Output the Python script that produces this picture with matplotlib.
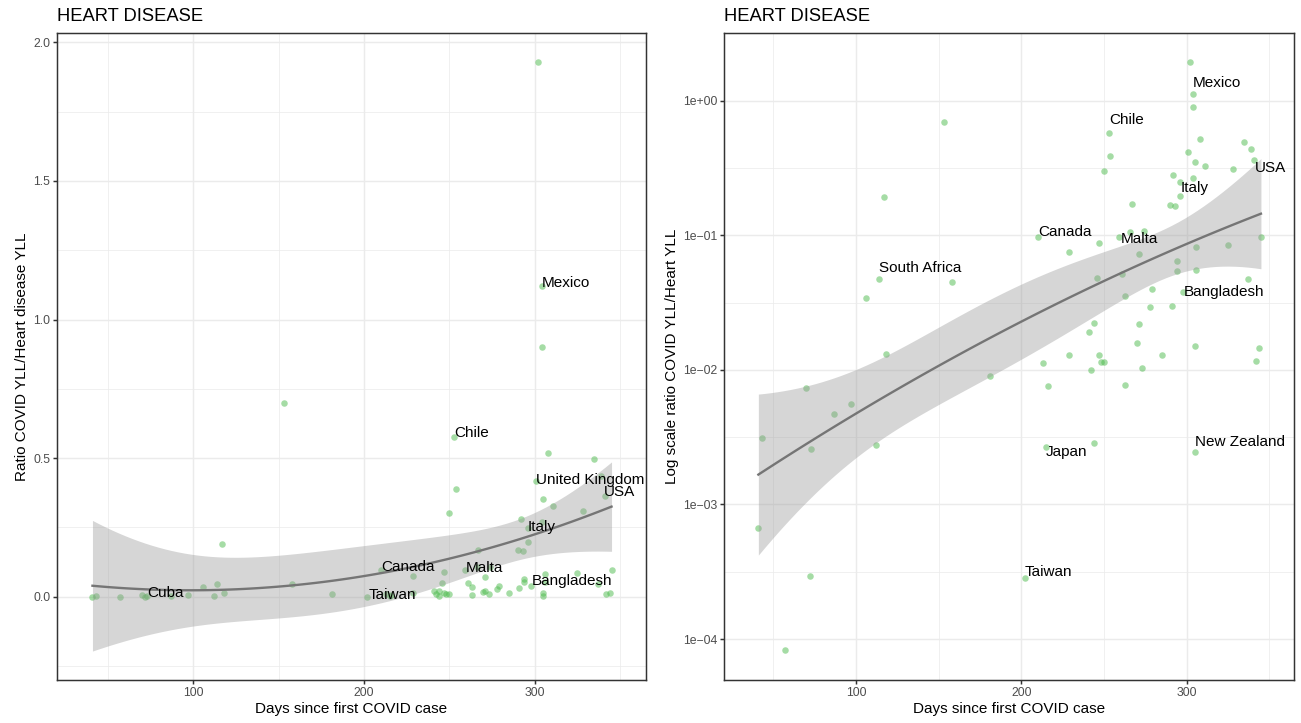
import numpy as np
import matplotlib
matplotlib.use('Agg')
import matplotlib.pyplot as plt
from matplotlib.transforms import offset_copy

plt.rcParams['font.family'] = ['Liberation Sans', 'DejaVu Sans']

# days since first case and COVID YLL / heart disease YLL ratio, one entry per country
days = [302, 304, 304, 253, 254, 250, 308, 335, 339, 341,
        301, 305, 311, 328, 292, 304, 296, 296, 290, 293,
        267, 274, 210, 247, 229, 259, 266, 271, 294, 294,
        306, 325, 345, 306, 337, 246, 261, 279, 263, 298,
        278, 291, 244, 241, 271, 270, 305, 344, 342, 229,
        247, 248, 250, 285, 213, 242, 273, 216, 263, 153,
        117, 114, 106, 158, 118, 181, 70, 97, 87, 43,
        73, 112, 41, 72, 57, 215, 244, 305, 202]
ratio = [1.93, 1.12, 0.90, 0.575, 0.39, 0.302, 0.519, 0.496, 0.435, 0.363,
         0.418, 0.351, 0.329, 0.311, 0.280, 0.268, 0.248, 0.196, 0.169, 0.165,
         0.170, 0.108, 0.0977, 0.088, 0.075, 0.0966, 0.106, 0.0726, 0.0648, 0.0543,
         0.0823, 0.0851, 0.0966, 0.055, 0.0476, 0.0484, 0.0513, 0.0401, 0.0352, 0.0381,
         0.0293, 0.030, 0.0223, 0.0192, 0.022, 0.0159, 0.0151, 0.0145, 0.0116, 0.0128,
         0.0128, 0.0115, 0.0115, 0.0129, 0.0112, 0.00993, 0.0103, 0.00755, 0.00769, 0.698,
         0.191, 0.0471, 0.0344, 0.0452, 0.0131, 0.0090, 0.00734, 0.00558, 0.0047, 0.00312,
         0.00257, 0.00278, 0.000673, 0.000293, 8.26e-5, 0.00266, 0.00288, 0.00247, 0.000284]
country = [''] * len(days)
for i, name in [(1, 'Mexico'), (3, 'Chile'), (9, 'USA'), (10, 'United Kingdom'),
                (16, 'Italy'), (22, 'Canada'), (25, 'Malta'), (39, 'Bangladesh'),
                (61, 'South Africa'), (70, 'Cuba'), (75, 'Japan'),
                (77, 'New Zealand'), (78, 'Taiwan')]:
    country[i] = name

# label nudges in pixels (right, up)
left_labels = {'Mexico': (0, -1), 'Chile': (0, 0), 'United Kingdom': (0, -3),
               'USA': (-1, 0), 'Italy': (0, -2.5), 'Canada': (0, -1),
               'Malta': (1, -2), 'Bangladesh': (0, 1.5), 'Taiwan': (1, -2),
               'Cuba': (0, -0.7)}
right_labels = {'Mexico': (0, 7), 'Chile': (0, 8.7), 'USA': (1, -12),
                'Italy': (1, -9.6), 'Canada': (0, 1), 'Malta': (1.7, -5.5),
                'South Africa': (0, 7.6), 'Bangladesh': (1, -4.3),
                'Japan': (0, -9), 'New Zealand': (0, 5.7), 'Taiwan': (0, 2)}

log_ticks = [1e-4, 1e-3, 1e-2, 1e-1, 1e0]
log_tick_labels = ['1e\u221204', '1e\u221203', '1e\u221202', '1e\u221201', '1e+00']

POINT = '#4dbb4d'
GRID = '#ebebeb'
DARK = '#333333'


def t_975(df):
    # Cornish-Fisher approximation of the 97.5% t quantile
    z = 1.959964
    return z + (z ** 3 + z) / (4 * df) + (5 * z ** 5 + 16 * z ** 3 + 3 * z) / (96 * df ** 2)


def poly_fit(x, y, grid, deg=2):
    """least squares y ~ poly(x, deg) with a 95% confidence band"""
    x = np.asarray(x, float)
    y = np.asarray(y, float)
    c = x.mean()
    X = np.vander(x - c, deg + 1)
    beta, *_ = np.linalg.lstsq(X, y, rcond=None)
    resid = y - X @ beta
    df = len(x) - (deg + 1)
    sigma = np.sqrt(resid @ resid / df)
    cov = np.linalg.inv(X.T @ X)
    G = np.vander(grid - c, deg + 1)
    fit = G @ beta
    se = sigma * np.sqrt(np.einsum('ij,jk,ik->i', G, cov, G))
    t = t_975(df)
    return fit, fit - t * se, fit + t * se


def style_axes(ax):
    ax.set_axisbelow(True)
    ax.grid(True, which='major', color=GRID, lw=1.07)
    ax.grid(True, which='minor', color=GRID, lw=0.53)
    for s in ax.spines.values():
        s.set_color(DARK)
        s.set_linewidth(1.07)
    ax.tick_params(which='major', length=2.75, width=1.07, color=DARK,
                   labelsize=8.8, labelcolor='#4d4d4d', pad=2.2)
    ax.tick_params(which='minor', length=0)
    ax.set_xlim(20.4, 365)
    ax.set_xticks([100, 200, 300])
    ax.set_xticks([50, 150, 250, 350], minor=True)
    ax.set_xlabel('Days since first COVID case', fontsize=11, labelpad=2.5)
    ax.set_title('HEART DISEASE', loc='left', fontsize=13.2, pad=8.6)


def add_labels(ax, fig, labels):
    for name, (dx, dy) in labels.items():
        i = country.index(name)
        tr = offset_copy(ax.transData, fig=fig, x=dx * 0.72, y=dy * 0.72, units='points')
        t = ax.text(days[i], ratio[i], name, transform=tr, fontsize=11,
                    ha='left', va='baseline', color='black', zorder=5)
        t.set_clip_box(ax.bbox)
        t.set_clip_on(True)


fig = plt.figure(figsize=(13.01, 7.23), dpi=100)
ax1 = fig.add_axes([0.04404, 0.05947, 0.45226, 0.89443])
ax2 = fig.add_axes([0.55673, 0.05947, 0.43789, 0.89443])

x = np.array(days, float)
y = np.array(ratio, float)
grid_x = np.linspace(x.min(), x.max(), 80)

# linear ratio
style_axes(ax1)
ax1.scatter(x, y, s=22, color=POINT, alpha=0.5, linewidths=0, zorder=2)
fit, lo, hi = poly_fit(x, y, grid_x)
ax1.fill_between(grid_x, lo, hi, color='#999999', alpha=0.4, linewidth=0, zorder=3)
ax1.plot(grid_x, fit, color='#757575', lw=1.7, zorder=4)
ax1.set_ylim(-0.30, 2.032)
ax1.set_yticks([0.0, 0.5, 1.0, 1.5, 2.0])
ax1.set_yticklabels(['0.0', '0.5', '1.0', '1.5', '2.0'])
ax1.set_yticks([-0.25, 0.25, 0.75, 1.25, 1.75], minor=True)
ax1.set_ylabel('Ratio COVID YLL/Heart disease YLL', fontsize=11, labelpad=3)
add_labels(ax1, fig, left_labels)

# log ratio, fitted on the log scale
style_axes(ax2)
ax2.set_yscale('log')
ax2.scatter(x, y, s=22, color=POINT, alpha=0.5, linewidths=0, zorder=2)
fit, lo, hi = poly_fit(x, np.log10(y), grid_x)
ax2.fill_between(grid_x, 10 ** lo, 10 ** hi, color='#999999', alpha=0.4, linewidth=0, zorder=3)
ax2.plot(grid_x, 10 ** fit, color='#757575', lw=1.7, zorder=4)
ax2.set_ylim(10 ** -4.304, 10 ** 0.5007)
ax2.set_yticks(log_ticks)
ax2.set_yticklabels(log_tick_labels)
ax2.set_yticks([10 ** -3.5, 10 ** -2.5, 10 ** -1.5, 10 ** -0.5], minor=True)
ax2.yaxis.set_minor_formatter(matplotlib.ticker.NullFormatter())
ax2.set_ylabel('Log scale ratio COVID YLL/Heart YLL', fontsize=11, labelpad=3)
add_labels(ax2, fig, right_labels)

fig.savefig('out.png', dpi=100)
